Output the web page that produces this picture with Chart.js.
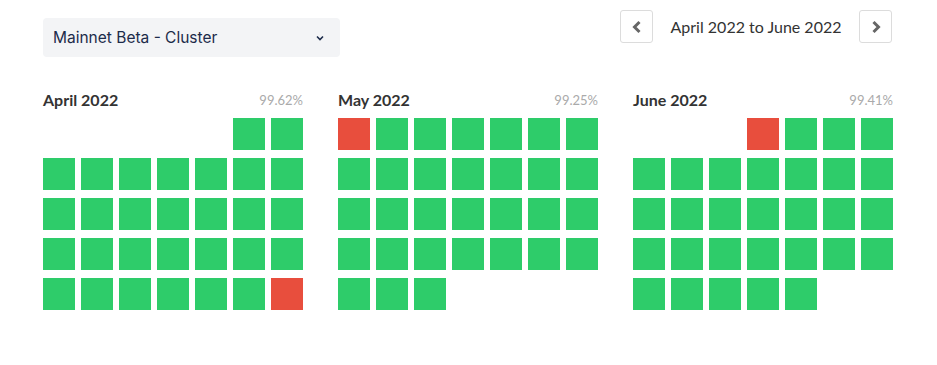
<!DOCTYPE html>
<html>
<head>
<meta charset="utf-8">
<script src="https://cdn.jsdelivr.net/npm/chart.js@4.4.0/dist/chart.umd.min.js"></script>
<style>
  body { margin: 0; background: #fff; width: 937px; height: 365px; position: relative; overflow: hidden; font-family: Lato, sans-serif; }
  .select { position: absolute; left: 43px; top: 18px; width: 297px; height: 39px; background: #f3f4f6; border-radius: 4px; }
  .select span { position: absolute; left: 10px; top: 0; line-height: 40px; font-family: Inter, sans-serif; font-size: 15.5px; color: #1c2b4a; }
  .select svg { position: absolute; left: 272px; top: 17px; }
  .btn { position: absolute; top: 10px; width: 31px; height: 31px; border: 1px solid #dcdcdc; border-radius: 3px; background: #fff; }
  .btn svg { position: absolute; left: 10px; top: 9px; }
  .range { position: absolute; left: 655px; width: 202px; top: 10px; line-height: 34px; text-align: center; font-size: 16px; color: #333; }
  .title { position: absolute; top: 90px; font-weight: 700; font-size: 16px; color: #333; line-height: 20px; }
  .pct { position: absolute; top: 91px; font-size: 13px; color: #aaa; line-height: 18px; text-align: right; width: 100px; }
  canvas { position: absolute; }
</style>
</head>
<body>
<div class="select"><span>Mainnet Beta - Cluster</span>
  <svg width="10" height="6" viewBox="0 0 10 6"><path d="M2 1.5 L5 4.5 L8 1.5" stroke="#1c2b4a" stroke-width="1.6" fill="none"/></svg>
</div>
<div class="btn" style="left:620px"><svg width="12" height="14" viewBox="0 0 12 14"><path d="M8.5 2 L3.5 7 L8.5 12" stroke="#666" stroke-width="3" fill="none"/></svg></div>
<div class="range">April 2022 to June 2022</div>
<div class="btn" style="left:859px"><svg width="12" height="14" viewBox="0 0 12 14"><path d="M3.5 2 L8.5 7 L3.5 12" stroke="#666" stroke-width="3" fill="none"/></svg></div>

<div id="titles"></div>
<canvas id="m0" width="266" height="200" style="left:40px;top:114px"></canvas>
<canvas id="m1" width="266" height="200" style="left:335px;top:114px"></canvas>
<canvas id="m2" width="266" height="200" style="left:630px;top:114px"></canvas>

<script>
const monthLabels = ['April 2022', 'May 2022', 'June 2022'];
const uptimeLabels = ['99.62%', '99.25%', '99.41%'];
// weekday of the 1st (0 = Sunday)
const firstWeekday = [5, 0, 3];
// 1 = fully up, 0 = incident day
const aprilStatus = [1,1,1,1,1,1,1,1,1,1,1,1,1,1,1,1,1,1,1,1,1,1,1,1,1,1,1,1,1,0];
const mayStatus   = [0,1,1,1,1,1,1,1,1,1,1,1,1,1,1,1,1,1,1,1,1,1,1,1,1,1,1,1,1,1,1];
const juneStatus  = [0,1,1,1,1,1,1,1,1,1,1,1,1,1,1,1,1,1,1,1,1,1,1,1,1,1,1,1,1,1];
const monthStatus = [aprilStatus, mayStatus, juneStatus];

const GREEN = '#2ecc6a';
const RED = '#e84e3d';

const titleLeft = [43, 338, 633];
const titles = document.getElementById('titles');
monthLabels.forEach((m, i) => {
  const t = document.createElement('div');
  t.className = 'title';
  t.style.left = titleLeft[i] + 'px';
  t.textContent = m;
  titles.appendChild(t);
  const p = document.createElement('div');
  p.className = 'pct';
  p.style.left = (titleLeft[i] + 260 - 100) + 'px';
  p.textContent = uptimeLabels[i];
  titles.appendChild(p);
});

monthStatus.forEach((status, i) => {
  const points = status.map((s, d) => {
    const idx = d + firstWeekday[i];
    return { x: (idx % 7) + 0.5, y: Math.floor(idx / 7) + 0.5 };
  });
  new Chart(document.getElementById('m' + i), {
    type: 'scatter',
    data: {
      datasets: [{
        data: points,
        pointStyle: 'rect',
        pointRadius: 16 * Math.SQRT2,
        pointHoverRadius: 16 * Math.SQRT2,
        borderWidth: 0,
        backgroundColor: status.map(s => s ? GREEN : RED),
      }],
    },
    options: {
      responsive: false,
      animation: false,
      events: [],
      layout: { padding: 0, autoPadding: false },
      plugins: { legend: { display: false }, tooltip: { enabled: false } },
      scales: {
        x: { type: 'linear', min: 0, max: 7, display: false },
        y: { type: 'linear', min: 0, max: 5, reverse: true, display: false },
      },
    },
  });
});
</script>
</body>
</html>
